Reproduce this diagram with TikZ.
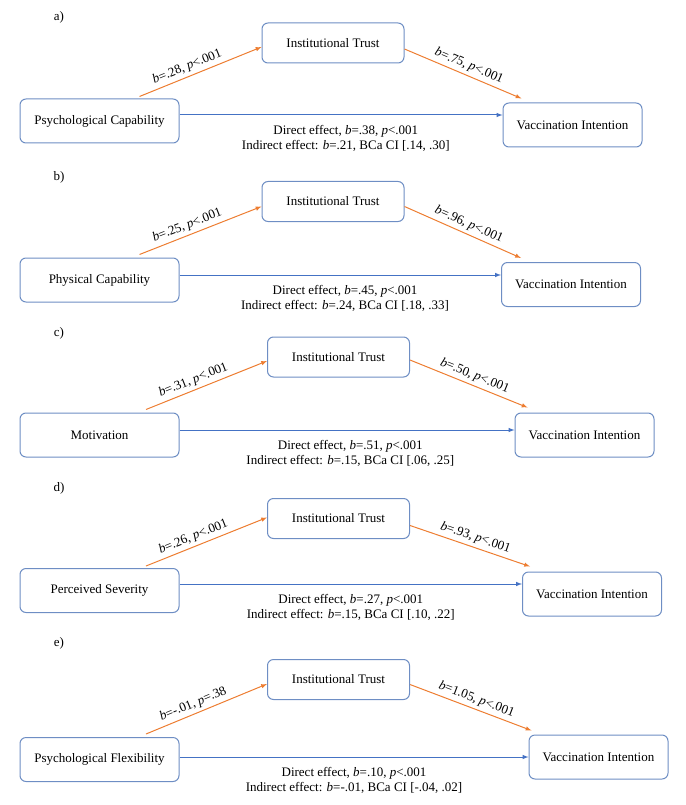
\documentclass[tikz,border=0pt]{standalone}
\usepackage{fontspec}
\setmainfont{Liberation Serif}
\usetikzlibrary{arrows,positioning}
\definecolor{trustorange}{RGB}{237,125,49}
\definecolor{directblue}{RGB}{68,114,196}
\definecolor{boxline}{RGB}{110,142,196}

\begin{document}
\begin{tikzpicture}[>=latex,x=1pt,y=-1pt,
		font=\fontsize{13}{15}\selectfont,
		modelbox/.style={draw=boxline,line width=1pt,rounded corners=6pt,fill=white,inner sep=0pt},
		mediator/.style={modelbox,minimum width=142pt,minimum height=40pt},
		predictor/.style={modelbox,minimum width=159pt,minimum height=44pt},
		outcome/.style={modelbox,minimum width=139pt,minimum height=44pt},
		indirect/.style={->,draw=trustorange,line width=1pt},
		direct/.style={->,draw=directblue,line width=1pt},
		coef/.style={sloped,above,inner sep=3pt},
		effect/.style={below=10pt,align=center,inner sep=0pt}]
	\useasboundingbox (0,0) rectangle (685,805);
	% a)
	\node (lab-a) at (59,17) {a)};
	\node[mediator] (it-a) at (333,43) {Institutional Trust};
	\node[predictor] (pc-a) at (99.5,121) {Psychological Capability};
	\node[outcome] (vi-a) at (572.5,125) {Vaccination Intention};
	\draw[indirect] ([xshift=40pt,yshift=2pt]pc-a.north) -- node[coef,pos=0.42] {\textit{b}=.28, \textit{p}<.001} ([yshift=-4pt]it-a.west);
	\draw[indirect] ([yshift=-6pt]it-a.east) -- node[coef,pos=0.52] {\textit{b}=.75, \textit{p}<.001} ([xshift=19pt,yshift=4pt]vi-a.north west);
	\coordinate (d-a) at ([yshift=6pt]pc-a.east);
	\draw[direct] (d-a) -- node[effect,pos=0.515] {Direct effect, \textit{b}=.38, \textit{p}<.001\\Indirect effect: \textit{b}=.21, BCa CI [.14, .30]} (d-a -| vi-a.west);
	% b)
	\node (lab-b) at (59,177) {b)};
	\node[mediator] (it-b) at (333,201.5) {Institutional Trust};
	\node[predictor] (pc-b) at (99.5,280) {Physical Capability};
	\node[outcome] (vi-b) at (571,284.5) {Vaccination Intention};
	\draw[indirect] ([xshift=40pt,yshift=3pt]pc-b.north) -- node[coef,pos=0.42] {\textit{b}=.25, \textit{p}<.001} ([yshift=-5pt]it-b.west);
	\draw[indirect] ([yshift=-5pt]it-b.east) -- node[coef,pos=0.52] {\textit{b}=.96, \textit{p}<.001} ([xshift=20pt,yshift=4pt]vi-b.north west);
	\coordinate (d-b) at ([yshift=5pt]pc-b.east);
	\draw[direct] (d-b) -- node[effect,pos=0.515] {Direct effect, \textit{b}=.45, \textit{p}<.001\\Indirect effect: \textit{b}=.24, BCa CI [.18, .33]} (d-b -| vi-b.west);
	% c)
	\node (lab-c) at (59,333) {c)};
	\node[mediator] (it-c) at (338.5,357) {Institutional Trust};
	\node[predictor] (mo-c) at (99.5,435) {Motivation};
	\node[outcome] (vi-c) at (584.5,435) {Vaccination Intention};
	\draw[indirect] ([xshift=46.5pt,yshift=3pt]mo-c.north) -- node[coef,pos=0.42] {\textit{b}=.31, \textit{p}<.001} ([yshift=-4pt]it-c.west);
	\draw[indirect] ([yshift=-3pt]it-c.east) -- node[coef,pos=0.52] {\textit{b}=.50, \textit{p}<.001} ([xshift=13pt,yshift=5pt]vi-c.north west);
	\coordinate (d-c) at ([yshift=5pt]mo-c.east);
	\draw[direct] (d-c) -- node[effect,pos=0.51] {Direct effect, \textit{b}=.51, \textit{p}<.001\\Indirect effect: \textit{b}=.15, BCa CI [.06, .25]} (d-c -| vi-c.west);
	% d)
	\node (lab-d) at (59,488) {d)};
	\node[mediator] (it-d) at (338.5,518.5) {Institutional Trust};
	\node[predictor] (ps-d) at (99.5,590.5) {Perceived Severity};
	\node[outcome] (vi-d) at (592,594) {Vaccination Intention};
	\draw[indirect] ([xshift=46.5pt,yshift=2pt]ps-d.north) -- node[coef,pos=0.42] {\textit{b}=.26, \textit{p}<.001} ([yshift=1pt]it-d.west);
	\draw[indirect] ([yshift=-7pt]it-d.east) -- node[coef,pos=0.52] {\textit{b}=.93, \textit{p}<.001} ([xshift=8pt,yshift=5pt]vi-d.north west);
	\coordinate (d-d) at ([yshift=6.5pt]ps-d.east);
	\draw[direct] (d-d) -- node[effect,pos=0.5] {Direct effect, \textit{b}=.27, \textit{p}<.001\\Indirect effect: \textit{b}=.15, BCa CI [.10, .22]} (d-d -| vi-d.west);
	% e)
	\node (lab-e) at (59,643) {e)};
	\node[mediator] (it-e) at (338.5,679.5) {Institutional Trust};
	\node[predictor] (pf-e) at (99.5,759.5) {Psychological Flexibility};
	\node[outcome] (vi-e) at (598.5,757) {Vaccination Intention};
	\draw[indirect] ([xshift=46.5pt,yshift=3pt]pf-e.north) -- node[coef,pos=0.42] {\textit{b}=-.01, \textit{p}=.38} ([yshift=-4.5pt]it-e.west);
	\draw[indirect] ([yshift=-5pt]it-e.east) -- node[coef,pos=0.52] {\textit{b}=1.05, \textit{p}<.001} ([xshift=3pt,yshift=4pt]vi-e.north west);
	\coordinate (d-e) at ([yshift=2.5pt]pf-e.east);
	\draw[direct] (d-e) -- node[effect,pos=0.5] {Direct effect, \textit{b}=.10, \textit{p}<.001\\Indirect effect: \textit{b}=-.01, BCa CI [-.04, .02]} (d-e -| vi-e.west);
\end{tikzpicture}
\end{document}
